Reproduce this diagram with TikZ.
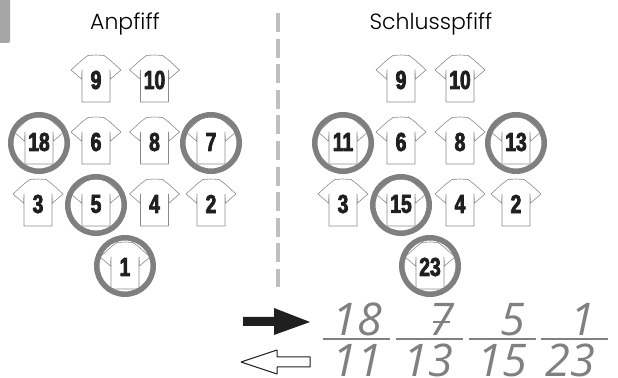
\documentclass[tikz,border=0pt]{standalone}
\usepackage{fontspec}
\usetikzlibrary{positioning}
\newfontfamily\titlefont{Poppins Light}
\newfontfamily\numberfont[FakeStretch=0.74,FakeBold=3]{Liberation Sans Bold}
\newfontfamily\handfont{Open Sans Italic}
\definecolor{ringgray}{HTML}{7F7F7F}
\definecolor{handgray}{HTML}{808080}
\definecolor{shirtgray}{HTML}{8A8A8A}
\tikzset{
  title/.style={font=\titlefont\fontsize{22bp}{22bp}\selectfont,text=black,inner sep=0pt},
  number/.style={font=\numberfont\fontsize{26bp}{26bp}\selectfont,text=black!88,inner sep=0pt},
  hand/.style={font=\handfont\fontsize{45bp}{45bp}\selectfont,text=handgray,anchor=base,inner sep=0pt},
  ring/.style={circle,draw=ringgray,line width=5.5bp,minimum size=56.5bp,inner sep=0pt,outer sep=0pt},
  fracline/.style={draw=handgray,line width=1.6bp},
  jersey/.pic={
    \draw [shirtgray,line width=.6bp,line join=round]
      (-14bp,19bp) -- (-8bp,23.5bp) -- (0bp,24bp) -- (8bp,23.5bp) -- (14bp,19bp)
      -- (25bp,9bp) -- (14.5bp,0bp) -- (14bp,9bp) -- (14bp,-23bp) -- (-14bp,-23bp)
      -- (-14bp,9bp) -- (-14.5bp,0bp) -- (-25bp,9bp) -- cycle;
  }
}
\newcommand{\jersey}[4]{%
  \pic at (#2bp,#3bp) {jersey};
  \node [number] (#1) at (#2bp,#3bp-1bp) {#4};
}
\begin{document}
\begin{tikzpicture}[>=latex,line join=bevel,]
\useasboundingbox (0bp,0bp) rectangle (618bp,378bp);
%%
\fill [gray!70,rounded corners=2bp] (-3bp,335bp) rectangle (10bp,381bp);
\node (title_start) at (125bp,354bp) [title] {Anpfiff};
\node (title_end) at (431bp,354bp) [title] {Schlusspfiff};
\coordinate (divider_top) at (278bp,365bp);
\coordinate (divider_bottom) at (278bp,91bp);
\draw [gray!50,line width=4bp,dash pattern=on 19bp off 6.6bp] (divider_top) -- (divider_bottom);
%
\jersey{start_9}{96}{299}{9}
\jersey{start_10}{154.5}{299}{10}
\jersey{start_18}{39}{237}{18}
\jersey{start_6}{96}{237}{6}
\jersey{start_8}{154.5}{237}{8}
\jersey{start_7}{211}{237}{7}
\jersey{start_3}{38}{175}{3}
\jersey{start_5}{96}{175}{5}
\jersey{start_4}{154.5}{175}{4}
\jersey{start_2}{211}{175}{2}
\jersey{start_1}{125}{112}{1}
%
\jersey{end_9}{401}{299}{9}
\jersey{end_10}{460}{299}{10}
\jersey{end_11}{343}{237}{11}
\jersey{end_6}{401}{237}{6}
\jersey{end_8}{460}{237}{8}
\jersey{end_13}{516}{237}{13}
\jersey{end_3}{343}{175}{3}
\jersey{end_15}{401}{175}{15}
\jersey{end_4}{460}{175}{4}
\jersey{end_2}{516}{175}{2}
\jersey{end_23}{430}{112}{23}
%
\node (ring_18) at (39bp,235bp) [ring] {};
\node (ring_7) at (211bp,235bp) [ring] {};
\node (ring_5) at (96bp,173bp) [ring] {};
\node (ring_1) at (125bp,112bp) [ring] {};
\node (ring_11) at (343bp,235bp) [ring] {};
\node (ring_13) at (516bp,235bp) [ring] {};
\node (ring_15) at (401bp,173bp) [ring] {};
\node (ring_23) at (430bp,112bp) [ring] {};
%
\fill [black!88] (243bp,61bp) -- (274bp,61bp) -- (274bp,70bp) -- (310bp,56bp)
  -- (274bp,43bp) -- (274bp,52bp) -- (243bp,52bp) -- cycle;
\draw [black!88,line width=1bp,fill=white] (310bp,21bp) -- (277bp,21bp) -- (277bp,28bp) -- (241bp,16bp)
  -- (277bp,4bp) -- (277bp,11bp) -- (310bp,11bp) -- cycle;
%
\node (out_1) at (357bp,42bp) [hand] {18};
\node (out_2) at (442bp,42bp) [hand] {7};
\node (out_3) at (513bp,42bp) [hand] {5};
\node (out_4) at (583bp,42bp) [hand] {1};
\node (in_1) at (357bp,2bp) [hand] {11};
\node (in_2) at (428bp,2bp) [hand] {13};
\node (in_3) at (502bp,2bp) [hand] {15};
\node (in_4) at (570bp,2bp) [hand] {23};
\draw [handgray,line width=2.5bp] (433bp,56bp) -- (450bp,56bp);
\draw [fracline] (323bp,39bp) -- (390bp,39bp);
\draw [fracline] (396bp,39bp) -- (463bp,39bp);
\draw [fracline] (469bp,39bp) -- (536bp,39bp);
\draw [fracline] (541bp,39bp) -- (608bp,39bp);
%
\end{tikzpicture}
\end{document}
